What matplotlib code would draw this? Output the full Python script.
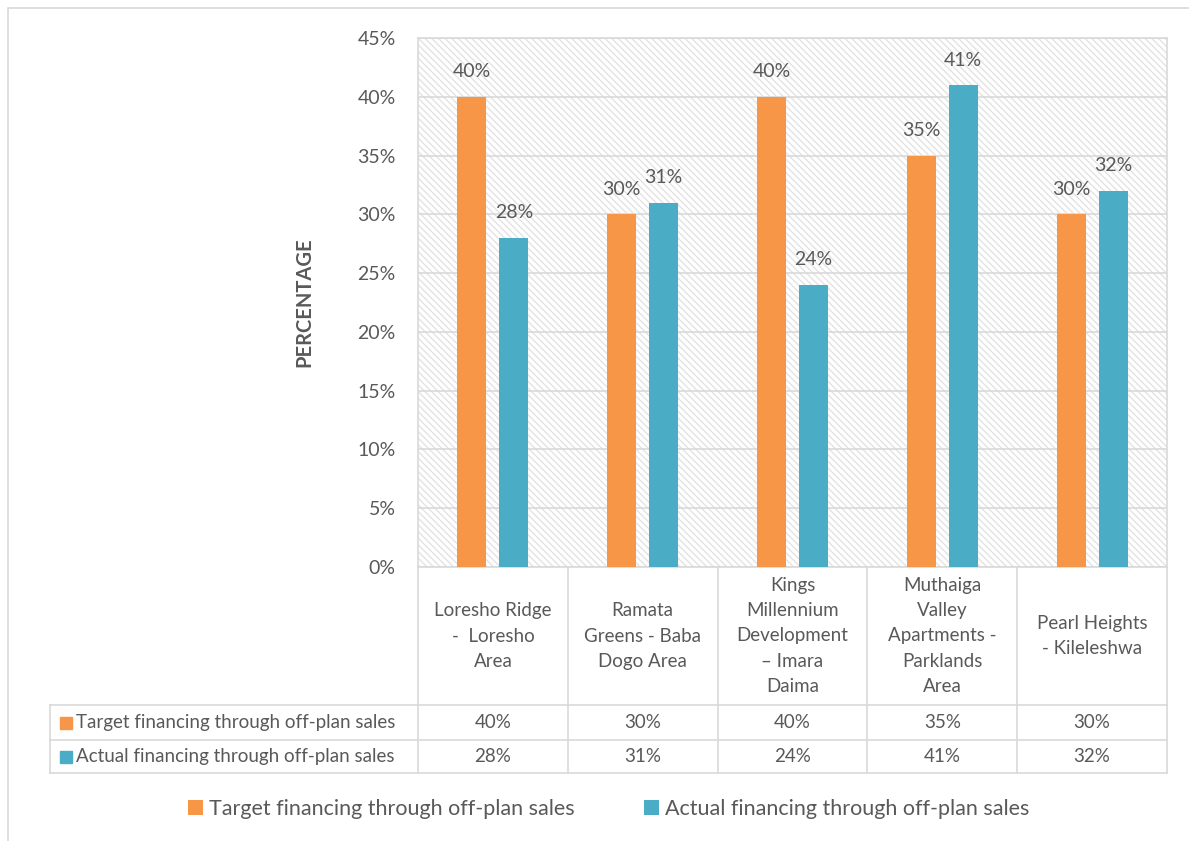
import matplotlib
matplotlib.use('Agg')
import matplotlib.pyplot as plt
from matplotlib.patches import Rectangle, Patch
from matplotlib.lines import Line2D
import matplotlib.transforms as mtransforms

plt.rcParams['font.family'] = ['Lato', 'DejaVu Sans']

# data
categories = ['Loresho Ridge\n-  Loresho\nArea',
              'Ramata\nGreens - Baba\nDogo Area',
              'Kings\nMillennium\nDevelopment\n– Imara\nDaima',
              'Muthaiga\nValley\nApartments -\nParklands\nArea',
              'Pearl Heights\n- Kileleshwa']
series_names = ['Target financing through off-plan sales',
                'Actual financing through off-plan sales']
target = [40, 30, 40, 35, 30]
actual = [28, 31, 24, 41, 32]
colors = ['#F79646', '#4BACC6']

W, H = 1189, 841
fig = plt.figure(figsize=(W / 100, H / 100), dpi=100)
# plot area in pixel coords
px_l, px_r, px_t, px_b = 418, 1167, 38, 567
ax = fig.add_axes([px_l / W, 1 - px_b / H, (px_r - px_l) / W, (px_b - px_t) / H])

txt = '#595959'
grid = '#d9d9d9'

# outer chart border
fig.patches.append(Rectangle((8 / W, -0.01), 1.0, 1 - 8 / H + 0.01, transform=fig.transFigure,
                             fill=False, edgecolor=grid, linewidth=1.2))

# hatched plot background
ax.add_patch(Rectangle((0, 0), 1, 1, transform=ax.transAxes, facecolor='white',
                       edgecolor='#e3e3e3', hatch='\\\\\\\\\\', linewidth=0, zorder=0))

x = list(range(len(categories)))
off, bw = 0.14, 0.194
for vals, c, d in [(target, colors[0], -off), (actual, colors[1], off)]:
    xs = [i + d for i in x]
    ax.bar(xs, vals, width=bw, color=c, zorder=3)
    for xi, v in zip(xs, vals):
        ax.annotate(f'{v}%', (xi, v), xytext=(0, 18), textcoords='offset points',
                    ha='center', va='center', fontsize=14, color=txt, zorder=4)

ax.set_xlim(-0.5, len(categories) - 0.5)
ax.set_ylim(0, 45)
ax.set_yticks(range(0, 46, 5))
ax.set_yticklabels([f'{t}%' for t in range(0, 46, 5)], fontsize=14, color=txt)
ax.tick_params(axis='y', length=0, pad=16)
ax.set_xticks([])
ax.yaxis.grid(True, color=grid, linewidth=1.2, zorder=1)
ax.set_axisbelow(True)
for s in ax.spines.values():
    s.set_color(grid)
    s.set_linewidth(1.2)

ax.set_ylabel('PERCENTAGE', fontsize=14.5, fontweight='bold', color=txt)
ax.yaxis.set_label_coords(-0.138, 0.5)

# data table below the axis
def yf(py):
    return (px_b - py) / (px_b - px_t)

def xf(px):
    return (px - px_l) / (px_r - px_l)

blend = mtransforms.blended_transform_factory(ax.transData, ax.transAxes)
y_lab, y_r1, y_r2, y_end = yf(705), yf(740), yf(773), yf(773)
lkw = dict(color=grid, linewidth=1.2, clip_on=False)

# vertical lines at category boundaries
for k in range(len(categories) + 1):
    ax.add_line(Line2D([k - 0.5, k - 0.5], [0, y_end], transform=blend, **lkw))
# left column borders
x_left = xf(50)
ax.add_line(Line2D([x_left, x_left], [y_lab, y_end], transform=ax.transAxes, **lkw))
for yy in [y_lab, y_r1, y_r2]:
    ax.add_line(Line2D([x_left, 1], [yy, yy], transform=ax.transAxes, **lkw))

# category labels
for i, cat in enumerate(categories):
    ax.text(i, (0 + y_lab) / 2, cat, transform=blend, ha='center', va='center',
            fontsize=13.5, color=txt, linespacing=1.58)

# table rows
for row, (name, vals, c) in enumerate(zip(series_names, [target, actual], colors)):
    yc = (y_lab + y_r1) / 2 if row == 0 else (y_r1 + y_r2) / 2
    ax.plot([xf(66)], [yc], marker='s', markersize=8, color=c, transform=ax.transAxes,
            clip_on=False, linestyle='none')
    ax.text(xf(76), yc, name, transform=ax.transAxes, ha='left', va='center',
            fontsize=13.5, color=txt)
    for i, v in enumerate(vals):
        ax.text(i, yc, f'{v}%', transform=blend, ha='center', va='center',
                fontsize=13.5, color=txt)

# legend
handles = [Patch(facecolor=c, edgecolor='none', label=n) for c, n in zip(colors, series_names)]
fig.legend(handles=handles, loc='center', bbox_to_anchor=(0.512, 1 - 809 / H), ncol=2,
           frameon=False, fontsize=15.5, handlelength=0.7, handleheight=0.7,
           handletextpad=0.3, columnspacing=3.2, labelcolor=txt)

fig.savefig('out.png', dpi=100)
